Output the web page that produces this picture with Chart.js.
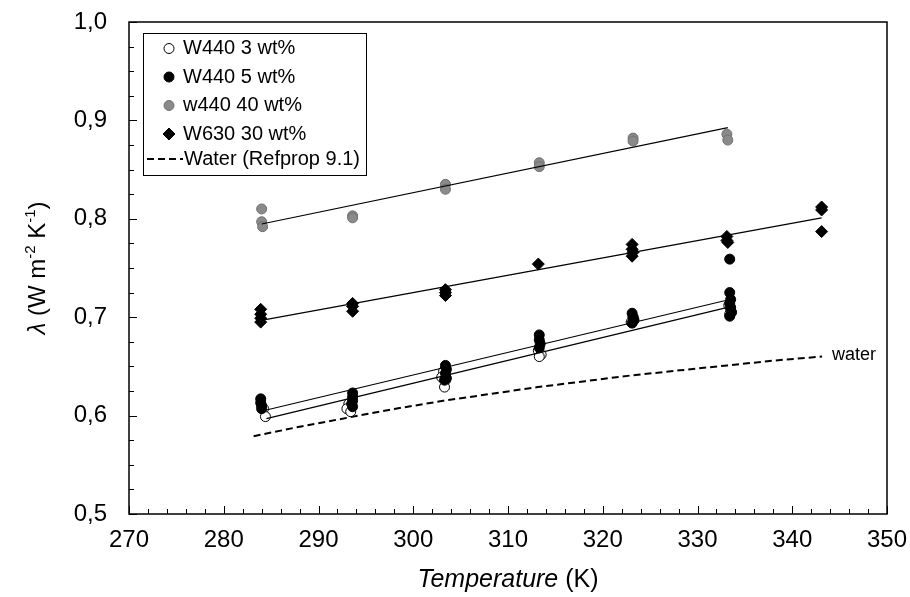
<!DOCTYPE html>
<html>
<head>
<meta charset="utf-8">
<script src="https://cdn.jsdelivr.net/npm/chart.js@4.4.0/dist/chart.umd.min.js"></script>
<style>
html, body { margin: 0; padding: 0; background: #fff; }
</style>
</head>
<body>
<canvas id="myChart" width="910" height="597"></canvas>
<script>
// values: temperature (K) and lambda (W m-2 K-1)
const t3 = [284.2, 284.4, 293.2, 293.0, 293.4, 303.2, 303.0, 303.4, 303.3, 313.2, 313.5, 313.3, 323.2, 323.0, 333.3, 333.5, 333.4];
const l3 = [0.607, 0.599, 0.612, 0.607, 0.604, 0.645, 0.639, 0.636, 0.629, 0.666, 0.662, 0.660, 0.700, 0.695, 0.712, 0.707, 0.703];

const t5 = [283.9, 283.9, 284.0, 284.0, 293.6, 293.6, 293.6, 293.5, 293.6, 303.4, 303.5, 303.4, 303.5, 303.3, 313.3, 313.3, 313.4, 313.3, 323.1, 323.2, 323.3, 323.1, 333.4, 333.4, 333.5, 333.4, 333.5, 333.6, 333.4];
const l5 = [0.617, 0.613, 0.610, 0.607, 0.623, 0.619, 0.615, 0.612, 0.609, 0.651, 0.647, 0.643, 0.638, 0.636, 0.682, 0.677, 0.673, 0.669, 0.704, 0.700, 0.697, 0.694, 0.759, 0.725, 0.718, 0.714, 0.710, 0.705, 0.701];

const t40 = [284.0, 284.0, 284.1, 293.6, 293.6, 303.4, 303.4, 313.3, 313.3, 323.2, 323.2, 333.1, 333.2];
const l40 = [0.810, 0.797, 0.792, 0.803, 0.801, 0.835, 0.830, 0.857, 0.853, 0.882, 0.879, 0.886, 0.880];

const t630 = [283.9, 283.9, 283.9, 283.9, 293.6, 293.6, 293.6, 303.4, 303.4, 303.4, 313.2, 323.1, 323.1, 323.2, 323.1, 333.1, 333.1, 333.2, 343.1, 343.1, 343.1];
const l630 = [0.708, 0.703, 0.699, 0.695, 0.714, 0.711, 0.706, 0.728, 0.725, 0.722, 0.754, 0.774, 0.769, 0.766, 0.762, 0.782, 0.778, 0.776, 0.812, 0.809, 0.787];

// water reference curve
const tWater = [283.15, 288.15, 293.15, 298.15, 303.15, 308.15, 313.15, 318.15, 323.15, 328.15, 333.15, 338.15, 343.15];
const lWater = [0.579, 0.589, 0.598, 0.607, 0.615, 0.622, 0.629, 0.635, 0.641, 0.646, 0.651, 0.656, 0.660];

// linear trend lines (end points)
const fit3 = { t: [284.5, 333.4], l: [0.597, 0.7105] };
const fit5 = { t: [284.5, 333.4], l: [0.6057, 0.718] };
const fit40 = { t: [284.0, 333.2], l: [0.7947, 0.8926] };
const fit630 = { t: [284.4, 343.1], l: [0.6975, 0.801] };

const labels = ['W440 3 wt%', 'W440 5 wt%', 'w440 40 wt%', 'W630 30 wt%', 'Water (Refprop 9.1)'];
const waterNote = { t: 344.2, l: 0.6616, text: 'water' };

const FONT = '"Liberation Sans", Arial, Helvetica, sans-serif';
const pts = (xs, ys) => xs.map((v, i) => ({ x: v, y: ys[i] }));

function fitLine(f) {
  return {
    data: pts(f.t, f.l), showLine: true, pointRadius: 0,
    borderColor: '#000', borderWidth: 1.2, fill: false
  };
}

const s5 = { data: pts(t5, l5), pointStyle: 'circle', pointRadius: 5, backgroundColor: '#000', borderColor: '#000', borderWidth: 1 };
const s3 = { data: pts(t3, l3), pointStyle: 'circle', pointRadius: 5, backgroundColor: '#fff', borderColor: '#000', borderWidth: 1 };
const s40 = { data: pts(t40, l40), pointStyle: 'circle', pointRadius: 5, backgroundColor: '#8a8a8a', borderColor: '#707070', borderWidth: 1 };
const s630 = { data: pts(t630, l630), pointStyle: 'rectRot', pointRadius: 6, backgroundColor: '#000', borderColor: '#000', borderWidth: 1 };
const sWater = { data: pts(tWater, lWater), showLine: true, pointRadius: 0, borderColor: '#000', borderWidth: 2, borderDash: [7, 4], fill: false };

// custom frame + inward ticks
const axisMarks = {
  id: 'axisMarks',
  afterDraw(chart) {
    const { ctx, chartArea: a, scales: { x, y } } = chart;
    ctx.save();
    ctx.strokeStyle = '#000';
    ctx.lineWidth = 1;
    ctx.beginPath();
    for (let t = 270; t <= 350; t += 2) {
      const px = Math.round(x.getPixelForValue(t)) + 0.5;
      const len = t % 10 === 0 ? 8 : 5;
      ctx.moveTo(px, a.bottom); ctx.lineTo(px, a.bottom - len);
    }
    for (let i = 0; i <= 20; i++) {
      const py = Math.round(y.getPixelForValue(0.5 + i * 0.025)) + 0.5;
      const len = i % 4 === 0 ? 8 : 5;
      ctx.moveTo(a.left, py); ctx.lineTo(a.left + len, py);
    }
    ctx.stroke();
    ctx.lineWidth = 1.5;
    ctx.strokeRect(a.left, a.top, a.right - a.left, a.bottom - a.top);
    ctx.restore();
  }
};

// axis titles with italic parts and superscripts
const axisTitles = {
  id: 'axisTitles',
  afterDraw(chart) {
    const { ctx, chartArea: a } = chart;
    ctx.save();
    ctx.fillStyle = '#000';
    ctx.textBaseline = 'alphabetic';
    ctx.textAlign = 'left';
    // x title
    const it = 'italic 25px ' + FONT, nm = '25px ' + FONT;
    ctx.font = it; const w1 = ctx.measureText('Temperature').width;
    ctx.font = nm; const w2 = ctx.measureText(' (K)').width;
    let x0 = (a.left + a.right) / 2 - (w1 + w2) / 2;
    ctx.font = it; ctx.fillText('Temperature', x0, 587);
    ctx.font = nm; ctx.fillText(' (K)', x0 + w1, 587);
    // y title
    const parts = [
      { s: 'λ', f: 'italic 24px ' + FONT, dy: 0 },
      { s: ' (W m', f: '24px ' + FONT, dy: 0 },
      { s: '-2', f: '15px ' + FONT, dy: -10 },
      { s: ' K', f: '24px ' + FONT, dy: 0 },
      { s: '-1', f: '15px ' + FONT, dy: -10 },
      { s: ')', f: '24px ' + FONT, dy: 0 }
    ];
    let total = 0;
    parts.forEach(p => { ctx.font = p.f; p.w = ctx.measureText(p.s).width; total += p.w; });
    ctx.translate(45, (a.top + a.bottom) / 2);
    ctx.rotate(-Math.PI / 2);
    let cx = -total / 2;
    parts.forEach(p => { ctx.font = p.f; ctx.fillText(p.s, cx, p.dy); cx += p.w; });
    ctx.restore();
  }
};

// boxed legend in the upper left, like the original
const boxLegend = {
  id: 'boxLegend',
  afterDraw(chart) {
    const { ctx, scales: { x, y } } = chart;
    const box = { x: 143, y: 33, w: 223, h: 142 };
    const rows = [48.5, 77, 105.5, 134, 159];
    const markers = [s3, s5, s40, s630];
    ctx.save();
    ctx.fillStyle = '#fff';
    ctx.fillRect(box.x, box.y, box.w, box.h);
    ctx.strokeStyle = '#000';
    ctx.lineWidth = 1;
    ctx.strokeRect(box.x + 0.5, box.y + 0.5, box.w, box.h);
    ctx.font = '20px ' + FONT;
    ctx.textBaseline = 'middle';
    markers.forEach((m, i) => {
      ctx.fillStyle = m.backgroundColor;
      ctx.strokeStyle = m.borderColor;
      ctx.lineWidth = m.borderWidth;
      Chart.helpers.drawPoint(ctx, { pointStyle: m.pointStyle, radius: m.pointRadius, rotation: 0, borderWidth: m.borderWidth }, 169, rows[i]);
      ctx.fillStyle = '#000';
      ctx.fillText(labels[i], 183, rows[i]);
    });
    ctx.strokeStyle = '#000';
    ctx.lineWidth = 2;
    ctx.setLineDash([7, 4]);
    ctx.beginPath();
    ctx.moveTo(147, rows[4]); ctx.lineTo(183, rows[4]);
    ctx.stroke();
    ctx.setLineDash([]);
    ctx.fillStyle = '#000';
    ctx.fillText(labels[4], 184, rows[4]);
    // label on the water curve
    ctx.font = '18px ' + FONT;
    ctx.fillText(waterNote.text, x.getPixelForValue(waterNote.t), y.getPixelForValue(waterNote.l));
    ctx.restore();
  }
};

new Chart('myChart', {
  type: 'scatter',
  data: {
    datasets: [fitLine(fit3), fitLine(fit5), fitLine(fit40), fitLine(fit630), sWater, s630, s40, s5, s3]
  },
  options: {
    responsive: false,
    animation: false,
    layout: { padding: { left: 0, right: 23, top: 22, bottom: 0 } },
    plugins: { legend: { display: false }, tooltip: { enabled: false } },
    scales: {
      x: {
        type: 'linear', min: 270, max: 350,
        ticks: { stepSize: 10, padding: 12, color: '#000', font: { family: FONT, size: 24 } },
        grid: { display: false, drawTicks: false },
        border: { display: false },
        afterFit(s) { s.height = 83; s.paddingLeft = 0; s.paddingRight = 0; }
      },
      y: {
        type: 'linear', min: 0.5, max: 1.0,
        ticks: {
          stepSize: 0.1, padding: 22, color: '#000', font: { family: FONT, size: 24 },
          callback: v => v.toFixed(1).replace('.', ',')
        },
        grid: { display: false, drawTicks: false },
        border: { display: false },
        afterFit(s) { s.width = 129; s.paddingTop = 0; s.paddingBottom = 0; }
      }
    }
  },
  plugins: [axisMarks, axisTitles, boxLegend]
});
</script>
</body>
</html>
